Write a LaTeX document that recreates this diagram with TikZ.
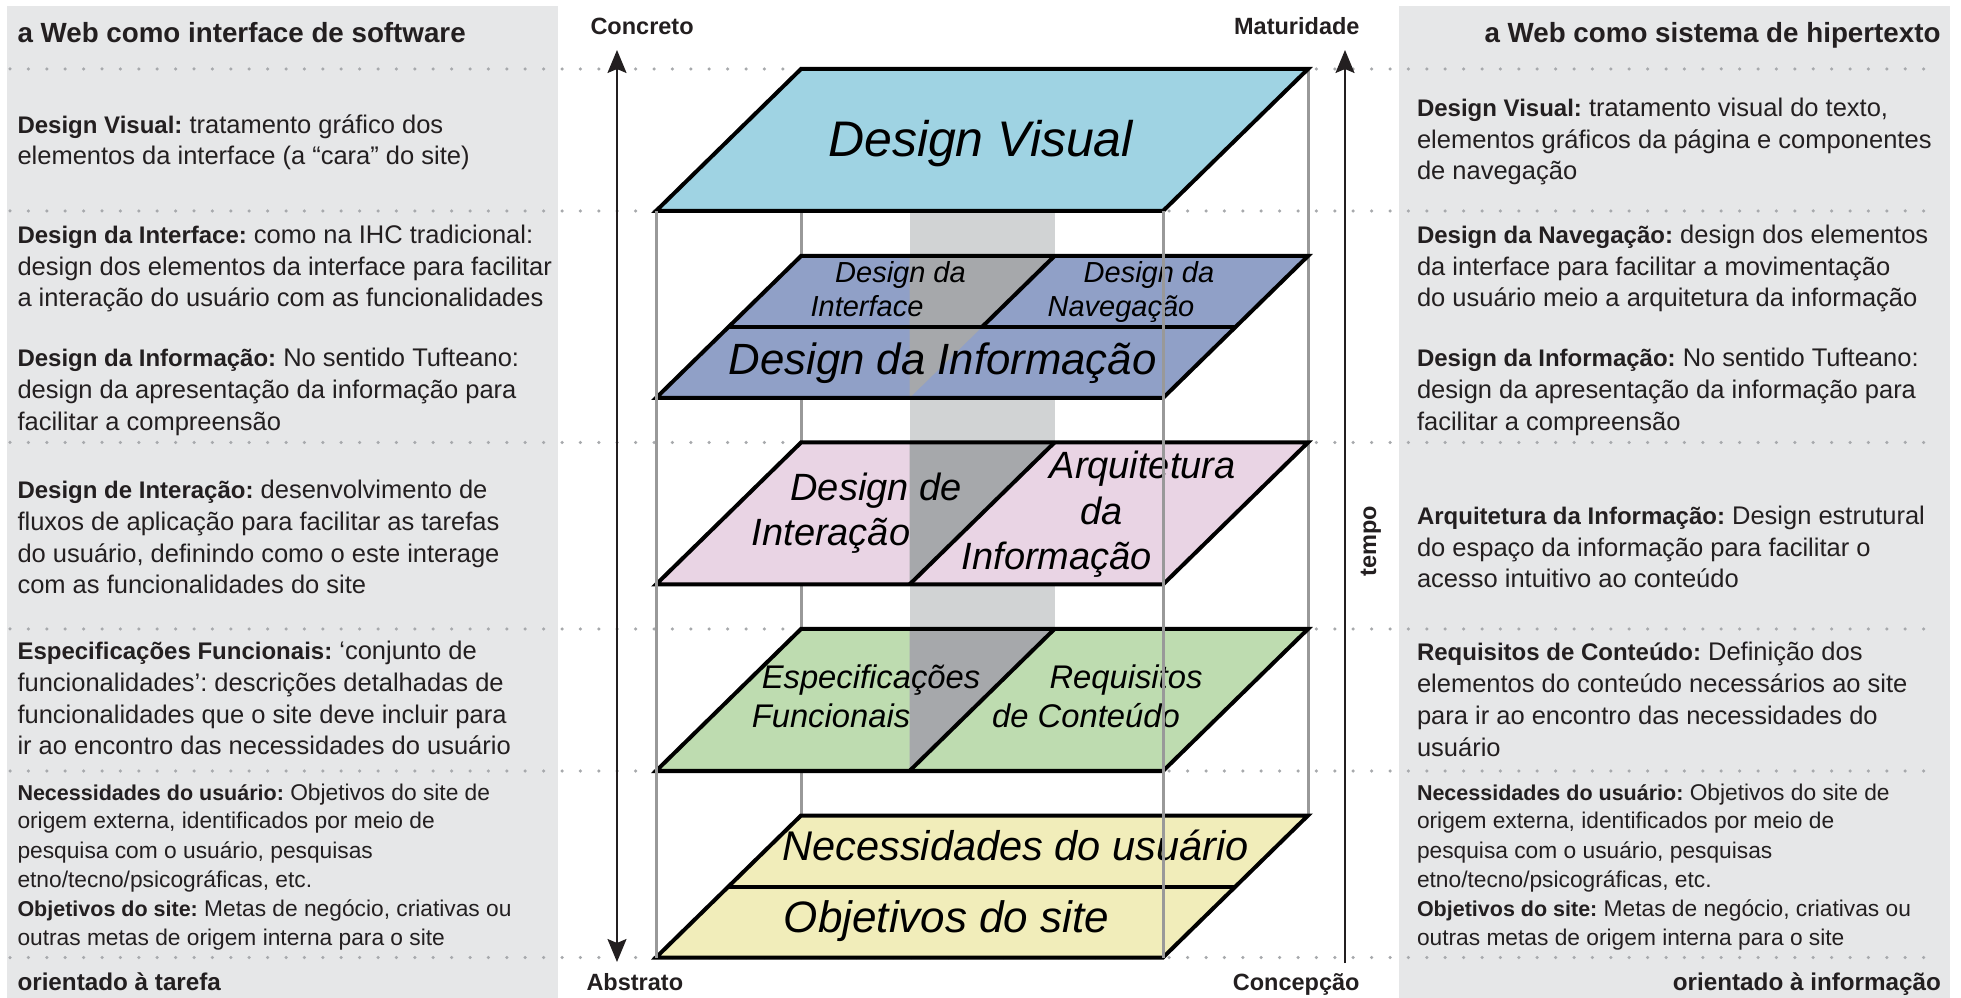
\documentclass[tikz,border=0pt]{standalone}
\usepackage{fontspec}
\setmainfont{Liberation Sans}
\usetikzlibrary{arrows.meta}
\definecolor{panelgray}{HTML}{E6E7E8}
\definecolor{dotgray}{HTML}{A7A9AC}
\definecolor{edgegray}{HTML}{999999}
\definecolor{columngray}{HTML}{D1D3D4}
\definecolor{overlapgray}{HTML}{A6A8AB}
\definecolor{textdark}{HTML}{231F20}
\definecolor{visualblue}{HTML}{9FD3E3}
\definecolor{infoblue}{HTML}{90A0C7}
\definecolor{interpink}{HTML}{E9D4E4}
\definecolor{specgreen}{HTML}{BEDCB0}
\definecolor{needyellow}{HTML}{F1EDBA}
\newcommand{\keyterm}[1]{{\fontsize{9.6}{12.7}\selectfont\bfseries #1}}
\newcommand{\keytermsmall}[1]{{\fontsize{8.6}{11.6}\selectfont\bfseries #1}}
\frenchspacing
\begin{document}
\begin{tikzpicture}[x=0.4pt, y=-0.4pt,
		dots/.style={dotgray, line width=1.4pt, line cap=round, dash pattern=on 0pt off 7.36pt},
		edge/.style={edgegray, line width=1.2pt},
		plane/.style={black, line width=1.6pt, line join=miter},
		axis/.style={textdark, line width=0.8pt},
		txt/.style={text=textdark, anchor=base west, align=left, inner sep=0pt, font=\fontsize{10.2}{12.7}\selectfont},
		small/.style={txt, font=\fontsize{9.1}{11.6}\selectfont},
		title/.style={text=textdark, inner sep=0pt, font=\fontsize{11.1}{13}\selectfont\bfseries},
		tag/.style={text=textdark, inner sep=0pt, font=\fontsize{9.4}{11}\selectfont\bfseries},
		lbl/.style={text=black, anchor=base, inner sep=0pt, font=\fontsize{#1}{#1}\selectfont\itshape}
		]
	\useasboundingbox (0,0) rectangle (1961,998);
	\fill[white] (0,0) rectangle (1961,998);
	\fill[panelgray] (7,6) rectangle (558,998);
	\fill[panelgray] (1399,6) rectangle (1950,998);
	\foreach \y in {69,211,442.5,629,771,957.5}
		\draw[dots] (10,\y) -- (1940,\y);
	\draw[edge] (801,69) -- (801,815.5);
	\draw[edge] (1308,69) -- (1308,815.5);
	\fill[columngray] (909.5,211) rectangle (1054.5,771);
	\foreach \b/\c in {211/visualblue, 398/infoblue, 584.5/interpink, 771/specgreen, 957.5/needyellow}
		\fill[\c] (656,\b) -- ++(507,0) -- ++(145,-142) -- ++(-507,0) -- cycle;
	\foreach \b in {398,584.5,771}
		\fill[overlapgray] (909.5,{\b-142}) -- (1054.5,{\b-142}) -- (909.5,\b) -- cycle;
	\foreach \b in {211,398,584.5,771,957.5}
		\draw[plane] (656,\b) -- ++(507,0) -- ++(145,-142) -- ++(-507,0) -- cycle;
	\draw[plane] (728.5,327) -- (1235.5,327);
	\draw[plane] (1054.5,256) -- (982,327);
	\draw[plane] (1054.5,442.5) -- (909.5,584.5);
	\draw[plane] (1054.5,629) -- (909.5,771);
	\draw[plane] (728.5,886.5) -- (1235.5,886.5);

	\node[lbl=20] (lbl-visual) at (980.5,156.7) {Design Visual};
	\node[lbl=11.6] (lbl-int-a) at (900.5,283) {Design da};
	\node[lbl=11.6] (lbl-int-b) at (867,316.7) {Interface};
	\node[lbl=11.6] (lbl-nav-a) at (1149,283) {Design da};
	\node[lbl=11.6] (lbl-nav-b) at (1121,316.7) {Navegação};
	\node[lbl=17.5] (lbl-info) at (942.6,375) {Design da Informação};
	\node[lbl=15.2] (lbl-inter-a) at (876,501) {Design de};
	\node[lbl=15.2] (lbl-inter-b) at (831,545.3) {Interação};
	\node[lbl=15.2] (lbl-arq-a) at (1142.6,479) {Arquitetura};
	\node[lbl=15.2] (lbl-arq-b) at (1101.6,525) {da};
	\node[lbl=15.2] (lbl-arq-c) at (1057,569.3) {Informação};
	\node[lbl=13.1] (lbl-esp-a) at (871,689) {Especificações};
	\node[lbl=13.1] (lbl-esp-b) at (831,727.8) {Funcionais};
	\node[lbl=13.1] (lbl-req-a) at (1126,689) {Requisitos};
	\node[lbl=13.1] (lbl-req-b) at (1086,727.8) {de Conteúdo};
	\node[lbl=16.6] (lbl-nec) at (1015.6,860.5) {Necessidades do usuário};
	\node[lbl=17.6] (lbl-obj) at (946.5,932.3) {Objetivos do site};

	\draw[edge] (656,211) -- (656,957.5);
	\draw[edge] (1163,211) -- (1163,957.5);

	\coordinate (concreto-end) at (617,50);
	\coordinate (abstrato-end) at (617,962);
	\coordinate (tempo-start) at (1345,963);
	\coordinate (tempo-end) at (1345,50);
	\draw[axis, {Stealth[length=9.2pt, width=7.6pt, inset=1.6pt]}-{Stealth[length=9.2pt, width=7.6pt, inset=1.6pt]}] (abstrato-end) -- (concreto-end);
	\draw[axis, -{Stealth[length=9.2pt, width=7.6pt, inset=1.6pt]}] (tempo-start) -- (tempo-end);
	\node[tag, anchor=base west] (concreto) at (590,35) {Concreto};
	\node[tag, anchor=base east] (maturidade) at (1360,35) {Maturidade};
	\node[tag, anchor=base west] (abstrato) at (586,990) {Abstrato};
	\node[tag, anchor=base east] (concepcao) at (1360,990) {Concepção};
	\node[tag, rotate=90] (tempo) at (1371,541) {tempo};

	\node[title, anchor=base west] (head-soft) at (17,42.7) {a Web como interface de software};
	\node[title, anchor=base east] (head-hiper) at (1941,42.7) {a Web como sistema de hipertexto};
	\node[tag, font=\fontsize{9.7}{12}\selectfont\bfseries, anchor=base west] (foot-tarefa) at (17,990) {orientado à tarefa};
	\node[tag, font=\fontsize{9.7}{12}\selectfont\bfseries, anchor=base east] (foot-info) at (1941.5,990) {orientado à informação};

	\node[txt] (l-visual) at (17,165) {\keyterm{Design Visual:} tratamento gráfico dos\\elementos da interface (a “cara” do site)};
	\node[txt] (l-interface) at (17,307) {\keyterm{Design da Interface:} como na IHC tradicional:\\design dos elementos da interface para facilitar\\a interação do usuário com as funcionalidades};
	\node[txt] (l-info) at (17,430.5) {\keyterm{Design da Informação:} No sentido Tufteano:\\design da apresentação da informação para\\facilitar a compreensão};
	\node[txt] (l-interacao) at (17,594) {\keyterm{Design de Interação:} desenvolvimento de\\fluxos de aplicação para facilitar as tarefas\\do usuário, definindo como o este interage\\com as funcionalidades do site};
	\node[txt] (l-espec) at (17,755) {\keyterm{Especificações Funcionais:} ‘conjunto de\\funcionalidades’: descrições detalhadas de\\funcionalidades que o site deve incluir para\\ir ao encontro das necessidades do usuário};
	\node[small] (l-necess) at (17,945) {\keytermsmall{Necessidades do usuário:} Objetivos do site de\\origem externa, identificados por meio de\\pesquisa com o usuário, pesquisas\\etno/tecno/psicográficas, etc.\\\keytermsmall{Objetivos do site:} Metas de negócio, criativas ou\\outras metas de origem interna para o site};

	\node[txt] (r-visual) at (1416.5,180) {\keyterm{Design Visual:} tratamento visual do texto,\\elementos gráficos da página e componentes\\de navegação};
	\node[txt] (r-naveg) at (1416.5,307) {\keyterm{Design da Navegação:} design dos elementos\\da interface para facilitar a movimentação\\do usuário meio a arquitetura da informação};
	\node[txt] (r-info) at (1416.5,430.5) {\keyterm{Design da Informação:} No sentido Tufteano:\\design da apresentação da informação para\\facilitar a compreensão};
	\node[txt] (r-arq) at (1416.5,588) {\keyterm{Arquitetura da Informação:} Design estrutural\\do espaço da informação para facilitar o\\acesso intuitivo ao conteúdo};
	\node[txt] (r-req) at (1416.5,756) {\keyterm{Requisitos de Conteúdo:} Definição dos\\elementos do conteúdo necessários ao site\\para ir ao encontro das necessidades do\\usuário};
	\node[small] (r-necess) at (1416.5,945) {\keytermsmall{Necessidades do usuário:} Objetivos do site de\\origem externa, identificados por meio de\\pesquisa com o usuário, pesquisas\\etno/tecno/psicográficas, etc.\\\keytermsmall{Objetivos do site:} Metas de negócio, criativas ou\\outras metas de origem interna para o site};
\end{tikzpicture}
\end{document}
